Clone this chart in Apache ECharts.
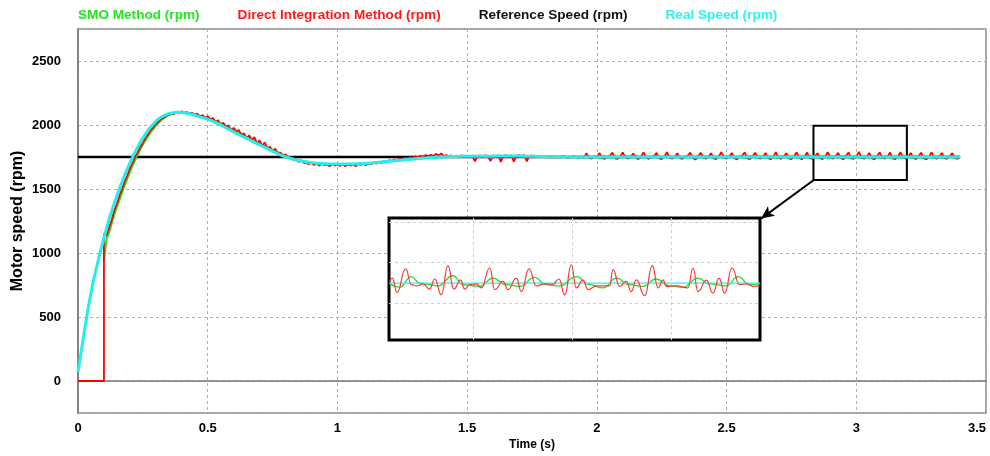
<!DOCTYPE html>
<html>
<head>
<meta charset="utf-8">
<script src="https://cdn.jsdelivr.net/npm/echarts@6/dist/echarts.min.js"></script>
<style>
  html, body { margin: 0; padding: 0; background: #fff; }
  #chart { width: 990px; height: 456px; }
</style>
</head>
<body>
<div id="chart"></div>
<script>
// legend names
var names = ['SMO Method (rpm)', 'Direct Integration Method (rpm)', 'Reference Speed (rpm)', 'Real Speed (rpm)'];

// reference speed
var refTime = [0, 3.4];
var refVals = [1750, 1750];

// real speed, sampled every 0.02 s from t = 0
var realStep = 0.02;
var realVals = [
  70, 330, 580, 790, 960,
  1120, 1265, 1390, 1505, 1610,
  1705, 1790, 1865, 1930, 1985,
  2030, 2062, 2082, 2094, 2099,
  2098, 2092, 2082, 2070, 2058,
  2045, 2028, 2010, 1990, 1968,
  1946, 1925, 1905, 1885, 1865,
  1845, 1826, 1806, 1786, 1767,
  1750, 1737, 1727, 1718, 1711,
  1706, 1702, 1699, 1697, 1696,
  1695, 1695, 1695, 1696, 1697,
  1699, 1702, 1705, 1709, 1713,
  1717, 1721, 1725, 1729, 1733,
  1737, 1740, 1743, 1746, 1748,
  1750, 1752, 1753, 1754, 1755,
  1756, 1756, 1756, 1756, 1756,
  1756, 1757, 1757, 1757, 1757,
  1757, 1756, 1756, 1755, 1754,
  1753, 1752, 1751, 1751, 1750,
  1750, 1750, 1750, 1750, 1750, 1750, 1750, 1750, 1750, 1750,
  1750, 1750, 1750, 1750, 1750, 1750, 1750, 1750, 1750, 1750,
  1750, 1750, 1750, 1750, 1750, 1750, 1750, 1750, 1750, 1750,
  1750, 1750, 1750, 1750, 1750, 1750, 1750, 1750, 1750, 1750,
  1750, 1750, 1750, 1750, 1750, 1750, 1750, 1750, 1750, 1750,
  1750, 1750, 1750, 1750, 1750, 1750, 1750, 1750, 1750, 1750,
  1750, 1750, 1750, 1750, 1750, 1750, 1750, 1750, 1750, 1750,
  1750, 1750, 1750, 1750, 1750, 1750
];

// direct integration: zero until 0.1 s, then sampled every 0.01 s
var dirOffTime = [0, 0.1];
var dirOffVals = [0, 0];
var dirStart = 0.1;
var dirStep = 0.01;
var dirVals = [
  1150, 1135, 1200, 1258, 1335, 1385, 1450, 1500, 1560, 1605,
  1662, 1700, 1752, 1785, 1830, 1860, 1900, 1925, 1962, 1980,
  2010, 2025, 2048, 2055, 2075, 2078, 2092, 2085, 2100, 2090,
  2108, 2092, 2102, 2085, 2095, 2078, 2090, 2065, 2078, 2052,
  2068, 2045, 2055, 2022, 2038, 1998, 2018, 1988, 1998, 1952,
  1978, 1948, 1960, 1922, 1935, 1892, 1920, 1882, 1905, 1852,
  1880, 1832, 1865, 1815, 1830, 1790, 1815, 1780, 1785, 1760,
  1772, 1742, 1745, 1725, 1734, 1712, 1722, 1705, 1702, 1695,
  1705, 1688, 1698, 1683, 1695, 1686, 1692, 1678, 1694, 1683,
  1690, 1680, 1695, 1678, 1690, 1682, 1693, 1678, 1695, 1688,
  1698, 1686, 1703, 1693, 1708, 1698, 1712, 1703, 1718, 1710,
  1725, 1718, 1732, 1726, 1738, 1730, 1745, 1738, 1750, 1742,
  1755, 1748, 1760, 1752, 1765, 1755, 1768, 1756, 1775, 1760,
  1778, 1758, 1765, 1755, 1762, 1750, 1760, 1755, 1762, 1752,
  1760, 1756, 1758, 1715, 1758, 1760, 1755, 1762, 1756, 1718,
  1760, 1757, 1762, 1712, 1760, 1762, 1758, 1763, 1714, 1760,
  1762, 1758, 1765, 1716, 1758, 1760, 1756, 1758, 1752, 1755,
  1748, 1752, 1747, 1750, 1748, 1752, 1746, 1760, 1748, 1744,
  1750, 1748, 1752, 1746, 1750, 1742, 1780, 1745, 1738, 1752,
  1748, 1782, 1742, 1736, 1750, 1758, 1784, 1740, 1735, 1752,
  1785, 1745, 1738, 1750, 1778, 1742, 1734, 1752, 1786, 1744,
  1736, 1750, 1756, 1782, 1740, 1733, 1752, 1788, 1745, 1737,
  1751, 1780, 1741, 1735, 1753, 1757, 1785, 1742, 1730, 1750,
  1783, 1746, 1736, 1752, 1779, 1740, 1733, 1755, 1789, 1744,
  1738, 1750, 1782, 1741, 1732, 1754, 1760, 1786, 1740, 1734,
  1752, 1784, 1745, 1737, 1750, 1781, 1742, 1731, 1753, 1787,
  1743, 1736, 1751, 1779, 1740, 1734, 1756, 1785, 1744, 1732,
  1750, 1785, 1743, 1736, 1752, 1780, 1741, 1733, 1754, 1788,
  1746, 1737, 1750, 1783, 1742, 1731, 1755, 1786, 1740, 1735,
  1752, 1790, 1745, 1736, 1751, 1782, 1741, 1730, 1757, 1786,
  1744, 1738, 1750, 1785, 1740, 1733, 1752, 1787, 1746, 1736,
  1751, 1781, 1742, 1734, 1755, 1784, 1740, 1732, 1750, 1786,
  1745, 1737, 1752, 1782, 1741, 1735, 1754, 1780, 1743, 1736,
  1750
];

// SMO estimate, sampled every 0.01 s from 0.1 s
var smoStart = 0.1;
var smoStep = 0.01;
var smoVals = [
  940, 1110, 1160, 1230, 1300, 1360, 1415, 1475, 1530, 1580,
  1632, 1680, 1725, 1768, 1808, 1845, 1880, 1912, 1942, 1968,
  1994, 2015, 2035, 2052, 2066, 2077, 2086, 2092, 2096, 2098,
  2099, 2098, 2096, 2092, 2088, 2083, 2078, 2072, 2066, 2060,
  2054, 2047, 2038, 2030, 2021, 2012, 2002, 1992, 1980, 1970,
  1958, 1948, 1937, 1927, 1917, 1907, 1897, 1887, 1877, 1867,
  1857, 1847, 1838, 1828, 1818, 1808, 1798, 1788, 1778, 1769,
  1760, 1752, 1745, 1738, 1732, 1727, 1722, 1718, 1714, 1711,
  1708, 1705, 1703, 1701, 1699, 1698, 1697, 1696, 1695, 1695,
  1694, 1694, 1694, 1695, 1695, 1696, 1697, 1698, 1699, 1700,
  1697, 1698, 1700, 1702, 1704, 1706, 1708, 1710, 1712, 1714,
  1716, 1718, 1720, 1722, 1724, 1726, 1728, 1730, 1732, 1734,
  1736, 1738, 1740, 1741, 1743, 1744, 1746, 1747, 1748, 1749,
  1750, 1751, 1752, 1753, 1754, 1754, 1755, 1756, 1756, 1757,
  1758, 1756, 1760, 1757, 1755, 1759, 1757, 1754, 1758, 1756,
  1759, 1755, 1757, 1760, 1756, 1754, 1758, 1757, 1755, 1759,
  1756, 1754, 1758, 1755, 1753, 1757, 1754, 1752, 1755, 1753,
  1751, 1754, 1752, 1749, 1753, 1751, 1748, 1752, 1750, 1747,
  1751, 1758, 1749, 1744, 1748, 1757, 1750, 1743, 1749, 1758,
  1751, 1744, 1747, 1759, 1752, 1743, 1748, 1756, 1750, 1742,
  1749, 1758, 1751, 1744, 1747, 1760, 1752, 1743, 1748, 1757,
  1750, 1742, 1749, 1758, 1751, 1744, 1746, 1759, 1753, 1742,
  1748, 1757, 1750, 1743, 1747, 1758, 1752, 1744, 1749, 1760,
  1751, 1743, 1748, 1757, 1750, 1742, 1747, 1759, 1752, 1744,
  1749, 1758, 1751, 1743, 1748, 1756, 1750, 1742, 1748, 1759,
  1752, 1744, 1747, 1758, 1751, 1743, 1749, 1757, 1750, 1742,
  1748, 1759, 1752, 1744, 1747, 1758, 1750, 1743, 1749, 1757,
  1751, 1744, 1748, 1760, 1752, 1743, 1747, 1758, 1751, 1742,
  1749, 1757, 1750, 1744, 1748, 1759, 1752, 1743, 1747, 1758,
  1750, 1742, 1749, 1757, 1751, 1744, 1748, 1758, 1750, 1743,
  1747, 1759, 1752, 1744, 1749, 1757, 1750, 1742, 1748, 1758,
  1751, 1743, 1747, 1759, 1752, 1744, 1748, 1757, 1750, 1742,
  1749, 1758, 1751, 1743, 1747, 1757, 1750, 1744, 1748, 1759,
  1750
];

// zoomed window (inset), read from the magnified view
var zoomTime = [2.815, 3.19];
var zoomSpeed = [1610, 1910];
var zoomTimeTicks = [2.9, 3.0, 3.1];
var zoomSpeedTicks = [1700, 1800, 1900];
var zoomBox = [[2.835, 1570], [3.195, 1995]];
var arrowTip = [2.633, 1269];

var insetDirTime = [
  2.8157, 2.8184, 2.8231, 2.8318, 2.8376, 2.8426, 2.8494, 2.8561, 2.8612, 2.8679,
  2.8746, 2.8804, 2.8874, 2.8915, 2.8965, 2.9033, 2.9083, 2.9168, 2.9218, 2.9302,
  2.9353, 2.9437, 2.9488, 2.9565, 2.9639, 2.9723, 2.9808, 2.9868, 2.9926, 2.9993,
  3.0043, 3.0111, 3.0161, 3.0246, 3.0380, 3.0414, 3.0481, 3.0549, 3.0599, 3.0650,
  3.0734, 3.0812, 3.0869, 3.0920, 3.0953, 3.1054, 3.1172, 3.1223, 3.1273, 3.1358,
  3.1425, 3.1486, 3.1543, 3.1617, 3.1694, 3.1762, 3.1829, 3.1897
];
var insetDirVals = [
  1754, 1762, 1727, 1785, 1746, 1743, 1748, 1735, 1760, 1721,
  1793, 1735, 1757, 1735, 1746, 1748, 1738, 1787, 1734, 1754,
  1734, 1762, 1729, 1785, 1743, 1748, 1747, 1760, 1721, 1795,
  1738, 1757, 1734, 1743, 1743, 1783, 1742, 1754, 1729, 1758,
  1719, 1793, 1738, 1758, 1742, 1743, 1738, 1787, 1729, 1757,
  1725, 1762, 1725, 1787, 1746, 1748, 1742, 1743
];
var insetSmoTime = [
  2.8157, 2.8258, 2.8376, 2.8460, 2.8561, 2.8645, 2.8797, 2.8898, 2.9066, 2.9201,
  2.9336, 2.9471, 2.9622, 2.9740, 2.9875, 3.0044, 3.0178, 3.0313, 3.0448, 3.0583,
  3.0717, 3.0852, 3.0987, 3.1122, 3.1273, 3.1391, 3.1560, 3.1678, 3.1795, 3.1897
];
var insetSmoVals = [
  1748, 1740, 1766, 1750, 1746, 1743, 1768, 1746, 1742, 1762,
  1746, 1742, 1764, 1746, 1743, 1766, 1746, 1738, 1762, 1746,
  1742, 1760, 1743, 1740, 1762, 1748, 1743, 1766, 1746, 1748
];
var insetRealTime = [2.815, 3.19];
var insetRealVals = [1750, 1750];

function stepped(t0, dt, vals) {
  return vals.map(function (v, i) { return [+(t0 + i * dt).toFixed(3), v]; });
}
function paired(ts, vals) {
  return ts.map(function (t, i) { return [t, vals[i]]; });
}

var FONT = '"Liberation Sans", Arial, sans-serif';
var C_SMO = '#1ee01e', C_DIR = '#ff0000', C_REF = '#000000', C_REAL = '#22eeee';

var chart = echarts.init(document.getElementById('chart'));
chart.setOption({
  animation: false,
  backgroundColor: '#fff',
  textStyle: { fontFamily: FONT },
  legend: {
    left: 72, top: 8, padding: 0,
    icon: 'rect', itemWidth: 1, itemHeight: 1, itemGap: 32,
    selectedMode: false,
    textStyle: { fontFamily: FONT, fontSize: 13.6, fontWeight: 'bold' },
    data: [
      { name: names[0], itemStyle: { color: 'rgba(0,0,0,0)' }, textStyle: { color: '#22e622' } },
      { name: names[1], itemStyle: { color: 'rgba(0,0,0,0)' }, textStyle: { color: '#ff1a1a' } },
      { name: names[2], itemStyle: { color: 'rgba(0,0,0,0)' }, textStyle: { color: '#111' } },
      { name: names[3], itemStyle: { color: 'rgba(0,0,0,0)' }, textStyle: { color: '#33f0f0' } }
    ]
  },
  grid: [
    { left: 78, right: 4, top: 29, bottom: 43, outerBoundsMode: 'none',
      show: true, borderColor: '#888', borderWidth: 1.5 },
    { left: 389, top: 218, width: 371, height: 122, outerBoundsMode: 'none', show: true, z: 3,
      backgroundColor: '#fff', borderColor: '#000', borderWidth: 3 }
  ],
  xAxis: [
    {
      type: 'value', gridIndex: 0, min: 0, max: 3.5, interval: 0.5,
      name: 'Time (s)', nameLocation: 'middle', nameGap: 26, nameMoveOverlap: false,
      nameTextStyle: { fontFamily: FONT, fontSize: 12, fontWeight: 'bold', color: '#000' },
      axisLine: { lineStyle: { color: '#777', width: 1.5 } },
      axisTick: { show: false },
      axisLabel: { margin: 9, fontFamily: FONT, fontSize: 13, fontWeight: 'bold', color: '#000',
        alignMaxLabel: 'right', formatter: function (v) { return String(v); } },
      splitLine: { lineStyle: { color: '#b0b0b0', type: [3, 3], width: 1 } }
    },
    {
      type: 'value', gridIndex: 1, min: zoomTime[0], max: zoomTime[1], z: 4,
      axisLine: { show: false }, axisLabel: { show: false },
      axisTick: { show: false, customValues: zoomTimeTicks },
      splitLine: { lineStyle: { color: '#d0d0d0', type: [3, 3], width: 1 } }
    }
  ],
  yAxis: [
    {
      type: 'value', gridIndex: 0, min: -250, max: 2750, splitNumber: 6,
      name: 'Motor speed (rpm)', nameLocation: 'middle', nameGap: 52, nameMoveOverlap: false,
      nameTextStyle: { fontFamily: FONT, fontSize: 16, fontWeight: 'bold', color: '#000' },
      axisLine: { show: true, lineStyle: { color: '#777', width: 1.5 } },
      axisTick: { show: false },
      axisLabel: { margin: 17, fontFamily: FONT, fontSize: 13, fontWeight: 'bold', color: '#000',
        showMinLabel: false, showMaxLabel: false, formatter: function (v) { return String(v); } },
      splitLine: { lineStyle: { color: '#b0b0b0', type: [3, 3], width: 1 } }
    },
    {
      type: 'value', gridIndex: 1, min: zoomSpeed[0], max: zoomSpeed[1], z: 4,
      axisLine: { show: false }, axisLabel: { show: false },
      axisTick: { show: false, customValues: zoomSpeedTicks },
      splitLine: { lineStyle: { color: '#d0d0d0', type: [3, 3], width: 1 } }
    }
  ],
  series: [
    {
      name: names[2], type: 'line', xAxisIndex: 0, yAxisIndex: 0, z: 2,
      data: paired(refTime, refVals), showSymbol: false, silent: true,
      lineStyle: { color: C_REF, width: 2.5 }, itemStyle: { color: C_REF },
      markArea: {
        silent: true,
        itemStyle: { color: 'rgba(0,0,0,0)', borderColor: '#000', borderWidth: 2 },
        data: [[{ coord: zoomBox[0] }, { coord: zoomBox[1] }]]
      },
      markLine: {
        silent: true, symbol: ['none', 'arrow'], symbolSize: [9, 13],
        label: { show: false },
        lineStyle: { color: '#000', width: 2, type: 'solid' },
        data: [[{ coord: [zoomBox[0][0], zoomBox[0][1] - 2] }, { coord: arrowTip }]]
      }
    },
    {
      name: names[0], type: 'line', xAxisIndex: 0, yAxisIndex: 0, z: 3,
      data: stepped(smoStart, smoStep, smoVals), showSymbol: false, silent: true,
      lineStyle: { color: C_SMO, width: 2 }, itemStyle: { color: C_SMO }
    },
    {
      name: names[1], type: 'line', xAxisIndex: 0, yAxisIndex: 0, z: 4,
      data: paired(dirOffTime, dirOffVals).concat(stepped(dirStart, dirStep, dirVals)),
      showSymbol: false, silent: true,
      lineStyle: { color: C_DIR, width: 1.8 }, itemStyle: { color: C_DIR }
    },
    {
      name: names[3], type: 'line', xAxisIndex: 0, yAxisIndex: 0, z: 5,
      data: stepped(0, realStep, realVals), showSymbol: false, silent: true,
      lineStyle: { color: C_REAL, width: 3 }, itemStyle: { color: C_REAL }
    },
    {
      name: names[0], type: 'line', xAxisIndex: 1, yAxisIndex: 1, z: 6,
      data: paired(insetSmoTime, insetSmoVals), showSymbol: false, silent: true,
      smooth: 0.5, smoothMonotone: 'x',
      lineStyle: { color: '#22dd22', width: 1.3 }, itemStyle: { color: C_SMO }
    },
    {
      name: names[1], type: 'line', xAxisIndex: 1, yAxisIndex: 1, z: 7,
      data: paired(insetDirTime, insetDirVals), showSymbol: false, silent: true,
      smooth: 0.5, smoothMonotone: 'x',
      lineStyle: { color: '#ff3838', width: 1.2 }, itemStyle: { color: C_DIR }
    },
    {
      name: names[3], type: 'line', xAxisIndex: 1, yAxisIndex: 1, z: 6,
      data: paired(insetRealTime, insetRealVals), showSymbol: false, silent: true,
      lineStyle: { color: '#33eeee', width: 1.2 }, itemStyle: { color: C_REAL }
    }
  ]
});
</script>
</body>
</html>
